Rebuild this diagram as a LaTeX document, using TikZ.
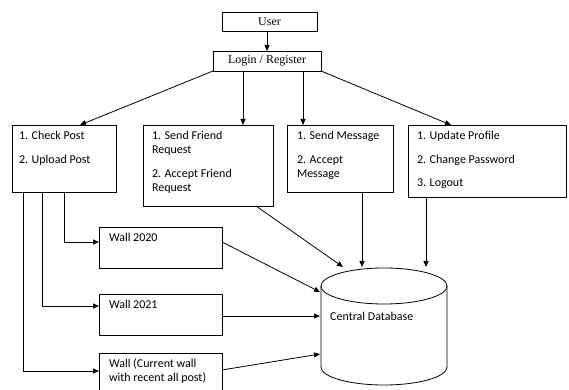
\documentclass[tikz,border=0pt]{standalone}
\usepackage{fontspec}
\setmainfont{Carlito}
\newfontfamily\tnrfont{Liberation Serif}
\usetikzlibrary{arrows.meta,calc}
\newcommand\bxt[4]{\parbox[t][#2][t]{#1}{\setlength\parindent{0pt}\setlength\leftskip{#3}\setlength\baselineskip{14pt}\rule{0pt}{14.5pt}#4}}
\tikzset{
  box/.style={draw, line width=0.8pt, inner sep=0pt, outer sep=0pt, anchor=north west, font=\fontsize{12}{14}\selectfont},
  tbox/.style={draw, line width=0.8pt, inner sep=0pt, outer sep=0pt, font=\tnrfont\fontsize{12}{14}\selectfont},
  arr/.style={-{Triangle[length=6pt,width=5pt]}, line width=0.8pt},
  ln/.style={line width=0.8pt}
}
\begin{document}
\begin{tikzpicture}[x=1pt,y=1pt]
\useasboundingbox (0,0) rectangle (569,390);
\clip (0,0) rectangle (569,390);
% top
\node[tbox, minimum width=95pt, minimum height=19pt] (user) at (269.5,368.5) {User};
\node[tbox, minimum width=108pt, minimum height=20pt] (login) at (267,329) {Login / Register};
% second row
\node[box] (cp) at (12,265) {\bxt{104pt}{67pt}{7pt}{1. Check Post\\[10pt]2. Upload Post}};
\node[box] (fr) at (143,265) {\bxt{130pt}{81pt}{9pt}{1. Send Friend\\Request\\[10pt]2. Accept Friend\\Request}};
\node[box] (ms) at (287,265) {\bxt{106pt}{67pt}{10pt}{1. Send Message\\[10pt]2. Accept\\Message}};
\node[box] (up) at (408,265) {\bxt{158pt}{72pt}{9pt}{1. Update Profile\\[10pt]2. Change Password\\[9pt]3. Logout}};
% walls
\node[box] (w20) at (99,163) {\bxt{123pt}{41pt}{10pt}{Wall 2020}};
\node[box] (w21) at (99,96) {\bxt{123pt}{41pt}{10pt}{Wall 2021}};
\node[box] (wc) at (99,37) {\bxt{123pt}{41pt}{10pt}{Wall (Current wall\\with recent all post)}};
% database
\node[minimum width=126pt, minimum height=117pt, inner sep=0pt, outer sep=0pt] (db) at (384,63.5) {};
\draw[ln] ($(db.north west)+(0,-18)$) -- ($(db.south west)+(0,18)$)
  arc[start angle=180, end angle=360, x radius=63, y radius=18] -- ($(db.north east)+(0,-18)$);
\draw[ln] ($(db.north)+(0,-18)$) ellipse [x radius=63, y radius=18];
\node[anchor=west, inner sep=0pt, font=\fontsize{12}{14}\selectfont] (dbl) at ($(db.north west)+(9,-48)$) {Central Database};
% connectors
\draw[arr] (user.south -| login.north) -- (login.north);
\draw[arr] (login.south west) -- ($(cp.north west)+(68,0)$);
\draw[arr] ($(login.south west)+(30,0)$) coordinate (a1) -- (a1 |- fr.north);
\draw[arr] ($(login.south west)+(90,0)$) coordinate (a2) -- (a2 |- ms.north);
\draw[arr] (login.south east) -- ($(up.north west)+(43,0)$);
\draw[arr] ($(cp.south west)+(52,0)$) |- ($(w20.north west)+(0,-15)$);
\draw[arr] ($(cp.south west)+(30,0)$) |- ($(w21.north west)+(0,-12)$);
\draw[arr] ($(cp.south west)+(11,0)$) |- ($(wc.north west)+(0,-18)$);
\draw[arr] ($(fr.south west)+(113,0)$) -- ($(db.north west)+(22,1)$);
\draw[arr] ($(ms.south west)+(75,0)$) coordinate (b1) -- ($(b1 |- db.north)+(0,1)$);
\draw[arr] ($(up.south west)+(18,0)$) coordinate (b2) -- ($(b2 |- db.north)+(0,1)$);
\draw[arr] ($(w20.north east)+(0,-15)$) -- ($(db.north west)+(-1,-24)$);
\draw[arr] ($(w21.north east)+(0,-22)$) -- ($(db.north west)+(-1,-48)$);
\draw[arr] ($(wc.north east)+(0,-17)$) -- ($(db.north west)+(-1,-86)$);
\end{tikzpicture}
\end{document}
